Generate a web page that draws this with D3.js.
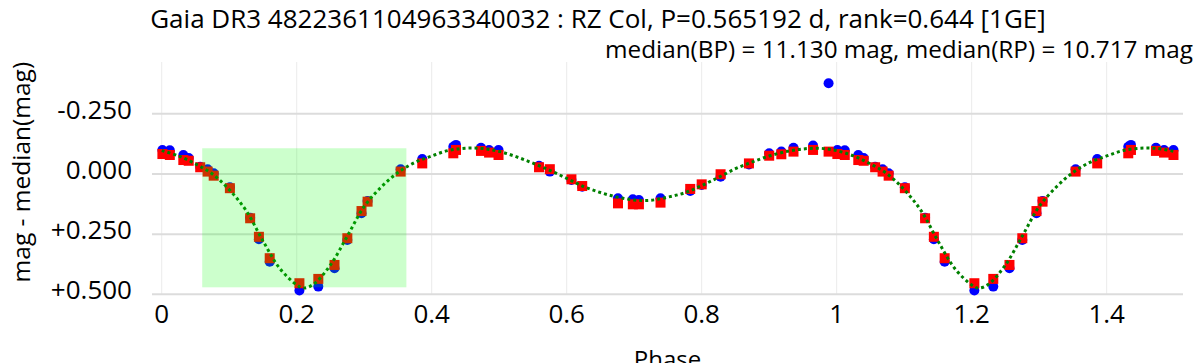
<!DOCTYPE html>
<html>
<head>
<meta charset="utf-8">
<script src="https://cdn.jsdelivr.net/npm/d3@7"></script>
<style>
body { margin: 0; background: #fff; }
text { font-family: "Open Sans", sans-serif; fill: #000; }
</style>
</head>
<body>
<div id="container"></div>
<script>

// folded observations, phase in [0,1)
var phase = [0.001, 0.012, 0.032, 0.040, 0.057, 0.068, 0.077, 0.101, 0.131, 0.144,
	0.160, 0.204, 0.232, 0.256, 0.275, 0.296, 0.305, 0.354, 0.386, 0.432,
	0.436, 0.473, 0.485, 0.499, 0.559, 0.575, 0.607, 0.623, 0.676, 0.698,
	0.707, 0.739, 0.783, 0.800, 0.828, 0.870, 0.900, 0.918, 0.936, 0.965, 0.988];
var magBP = [-0.100, -0.099, -0.079, -0.066, -0.030, -0.020, -0.003, 0.055, 0.182, 0.271,
	0.365, 0.484, 0.468, 0.392, 0.274, 0.163, 0.112, -0.020, -0.062, -0.113,
	-0.121, -0.109, -0.100, -0.100, -0.034, -0.010, 0.025, 0.053, 0.101, 0.105,
	0.108, 0.101, 0.071, 0.046, 0.011, -0.040, -0.086, -0.093, -0.109, -0.118, -0.377];
var magRP = [-0.083, -0.079, -0.058, -0.055, -0.028, -0.010, 0.007, 0.059, 0.184, 0.261,
	0.350, 0.454, 0.436, 0.378, 0.267, 0.154, 0.115, -0.010, -0.044, -0.086,
	-0.100, -0.096, -0.089, -0.079, -0.028, -0.020, 0.022, 0.050, 0.122, 0.126,
	0.126, 0.119, 0.062, 0.043, 0.001, -0.044, -0.076, -0.082, -0.093, -0.100, -0.093];

// model curve
var modelPhase = [0.000, 0.025, 0.050, 0.075, 0.100, 0.125, 0.150, 0.175, 0.200, 0.210,
	0.225, 0.250, 0.275, 0.300, 0.325, 0.350, 0.375, 0.400, 0.425, 0.450,
	0.475, 0.500, 0.525, 0.550, 0.575, 0.600, 0.625, 0.650, 0.675, 0.700,
	0.725, 0.750, 0.775, 0.800, 0.825, 0.850, 0.875, 0.900, 0.925, 0.950, 0.975];
var modelMag = [-0.097, -0.075, -0.042, 0.000, 0.065, 0.152, 0.278, 0.393, 0.461, 0.474,
	0.458, 0.378, 0.258, 0.135, 0.055, -0.006, -0.048, -0.075, -0.098, -0.107,
	-0.106, -0.094, -0.072, -0.045, -0.015, 0.018, 0.052, 0.077, 0.096, 0.108,
	0.109, 0.096, 0.078, 0.048, 0.014, -0.022, -0.050, -0.075, -0.093, -0.104, -0.107];

var bandPhase = [0.060, 0.3625];
var bandMag = [-0.107, 0.471];

var xTicks = [0, 0.2, 0.4, 0.6, 0.8, 1, 1.2, 1.4];
var xTickLabels = ["0", "0.2", "0.4", "0.6", "0.8", "1", "1.2", "1.4"];
var yTicks = [-0.25, 0, 0.25, 0.5];
var yTickLabels = ["-0.250", "0.000", "+0.250", "+0.500"];

var titleText = "Gaia DR3 4822361104963340032 : RZ Col, P=0.565192 d, rank=0.644 [1GE]";
var subText = "median(BP) = 11.130 mag, median(RP) = 10.717 mag";


function fold(ph, mag) {
	// repeat the first half cycle after phase 1
	var out = [];
	for (var i = 0; i < ph.length; i++) {
		out.push({p: ph[i], m: mag[i]});
	};
	for (var i = 0; i < ph.length; i++) {
		if (ph[i] + 1 <= 1.5) out.push({p: ph[i] + 1, m: mag[i]});
	};
	return out;
};


function modelpoints() {
	var pts = [];
	for (var k = 0; k < 2; k++) {
		for (var i = 0; i < modelPhase.length; i++) {
			if (modelPhase[i] + k <= 1.5) pts.push({p: modelPhase[i] + k, m: modelMag[i]});
		};
	};
	// close the period at 1.5 with the phase 0.5 value
	pts.push({p: 1.5, m: modelMag[modelPhase.indexOf(0.5)]});
	pts.sort(function(a, b) { return a.p - b.p; });
	return pts;
};


function drawit() {
	var W = 1196, H = 363;
	var left = 152, right = 1183, top = 62, bottom = 294.3;

	var svg = d3.select("#container").append("svg")
		.attr("width", W).attr("height", H);
	svg.append("rect").attr("width", W).attr("height", H).attr("fill", "#fff");

	var x = d3.scaleLinear().domain([-0.0144, 1.5131]).range([left, right]);
	var y = d3.scaleLinear().domain([-0.4655, 0.5]).range([top, bottom]);

	// grid
	svg.append("g").selectAll("line").data(xTicks).enter().append("line")
		.attr("x1", function(d) { return x(d); }).attr("x2", function(d) { return x(d); })
		.attr("y1", top).attr("y2", bottom)
		.attr("stroke", "#ebebeb").attr("stroke-width", 1);
	svg.append("g").selectAll("line").data(yTicks).enter().append("line")
		.attr("x1", left).attr("x2", right)
		.attr("y1", function(d) { return y(d); }).attr("y2", function(d) { return y(d); })
		.attr("stroke", "#dcdcdc").attr("stroke-width", 2);

	// tick labels
	svg.append("g").selectAll("text").data(xTicks).enter().append("text")
		.attr("x", function(d) { return x(d); })
		.attr("y", 323)
		.attr("text-anchor", "middle")
		.attr("font-size", 26)
		.text(function(d, i) { return xTickLabels[i]; });
	svg.append("g").selectAll("text").data(yTicks).enter().append("text")
		.attr("x", 132)
		.attr("y", function(d) { return y(d) + 5; })
		.attr("text-anchor", "end")
		.attr("font-size", 26)
		.text(function(d, i) { return yTickLabels[i]; });

	// points
	var bp = fold(phase, magBP);
	var rp = fold(phase, magRP);
	svg.append("g").selectAll("circle").data(bp).enter().append("circle")
		.attr("cx", function(d) { return x(d.p); })
		.attr("cy", function(d) { return y(d.m); })
		.attr("r", 5)
		.attr("fill", "#0000ff");
	svg.append("g").selectAll("rect").data(rp).enter().append("rect")
		.attr("x", function(d) { return x(d.p) - 5; })
		.attr("y", function(d) { return y(d.m) - 5; })
		.attr("width", 10).attr("height", 10)
		.attr("fill", "#ff0000");

	// model
	var line = d3.line()
		.x(function(d) { return x(d.p); })
		.y(function(d) { return y(d.m); })
		.curve(d3.curveCatmullRom);
	svg.append("path").datum(modelpoints())
		.attr("d", line)
		.attr("fill", "none")
		.attr("stroke", "#008000")
		.attr("stroke-width", 3)
		.attr("stroke-dasharray", "3,3");

	// highlighted eclipse window, drawn above the data
	svg.append("rect")
		.attr("x", x(bandPhase[0])).attr("width", x(bandPhase[1]) - x(bandPhase[0]))
		.attr("y", y(bandMag[0])).attr("height", y(bandMag[1]) - y(bandMag[0]))
		.attr("fill", "#00ff00").attr("fill-opacity", 0.2);

	// titles
	svg.append("text").attr("x", 598).attr("y", 28)
		.attr("text-anchor", "middle").attr("font-size", 26).text(titleText);
	svg.append("text").attr("x", 1193).attr("y", 58)
		.attr("text-anchor", "end").attr("font-size", 24.3).text(subText);
	svg.append("text").attr("x", (left + right) / 2).attr("y", 368)
		.attr("text-anchor", "middle").attr("font-size", 24).text("Phase");
	svg.append("text")
		.attr("transform", "translate(30," + ((top + bottom) / 2 - 6) + ") rotate(-90)")
		.attr("text-anchor", "middle").attr("font-size", 24.5).text("mag - median(mag)");
};


drawit();

</script>
</body>
</html>
